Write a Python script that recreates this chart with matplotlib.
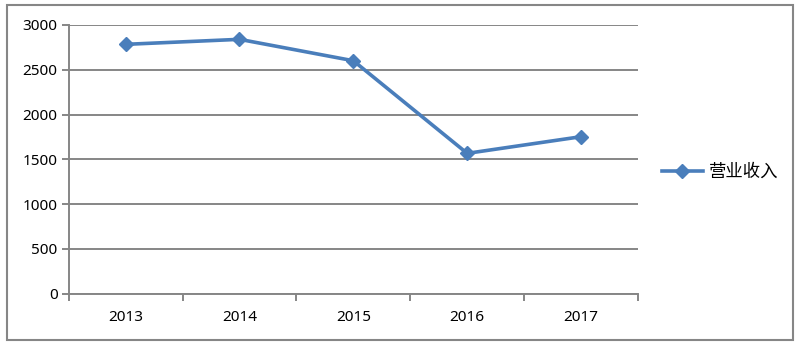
import matplotlib
matplotlib.use("Agg")
import matplotlib.pyplot as plt
from matplotlib.patches import Rectangle
from matplotlib.ticker import FixedLocator, NullFormatter

years = ["2013", "2014", "2015", "2016", "2017"]
revenue = [2784, 2840, 2601, 1567, 1753]
series_name = "营业收入"
yticks = [0, 500, 1000, 1500, 2000, 2500, 3000]

W, H = 810, 352
fig = plt.figure(figsize=(W / 100, H / 100), dpi=100)
fig.patch.set_facecolor("white")

gray = "#868686"
blue = "#4A7EBB"

ax = fig.add_axes([68.7 / W, 1 - 293.7 / H, (638 - 68.7) / W, (293.7 - 25) / H])
x = list(range(len(years)))
line, = ax.plot(x, revenue, color=blue, lw=2.6, marker="D", ms=7, mfc=blue, mec=blue,
                mew=1, label=series_name, zorder=3, clip_on=False)

ax.set_xlim(-0.5, len(years) - 0.5)
ax.set_ylim(0, 3000)
ax.set_yticks(yticks)
ax.set_yticklabels([str(v) for v in yticks])
ax.yaxis.grid(True, color=gray, lw=1.4)
ax.set_axisbelow(True)

ax.xaxis.set_major_locator(FixedLocator([i - 0.5 for i in range(len(years) + 1)]))
ax.xaxis.set_major_formatter(NullFormatter())
ax.xaxis.set_minor_locator(FixedLocator(x))
ax.set_xticklabels(years, minor=True)

for s in ["top", "right"]:
    ax.spines[s].set_visible(False)
for s in ["left", "bottom"]:
    ax.spines[s].set_color(gray)
    ax.spines[s].set_linewidth(1.4)

font = "Noto Sans"
ax.tick_params(axis="y", which="major", length=5, width=1.4, color=gray, pad=3,
               labelsize=11, labelcolor="black")
ax.tick_params(axis="x", which="major", length=5, width=1.4, color=gray)
ax.tick_params(axis="x", which="minor", length=0, pad=12, labelsize=11, labelcolor="black")
for lab in ax.get_yticklabels() + ax.get_xticklabels(minor=True):
    lab.set_fontfamily(font)

leg = fig.legend(handles=[line], loc="center left", bbox_to_anchor=(646 / W, 1 - 172 / H),
                 frameon=False, handlelength=2.4, handletextpad=0.35,
                 prop={"family": ["Noto Sans CJK SC", "DejaVu Sans"], "size": 12.5})

fig.patches.append(Rectangle((7 / W, 1 - 340 / H), 786 / W, 335 / H, transform=fig.transFigure,
                             fill=False, edgecolor=gray, lw=1.5))

fig.savefig("out.png", dpi=100)
